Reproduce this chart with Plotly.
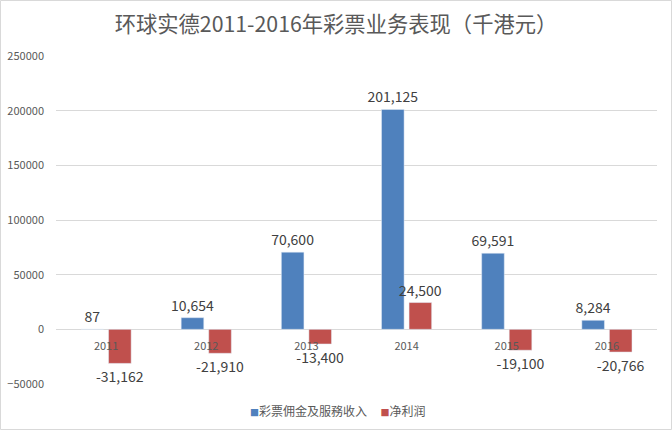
import plotly.graph_objects as go

years = ["2011", "2012", "2013", "2014", "2015", "2016"]
revenue = [87, 10654, 70600, 201125, 69591, 8284]
net_profit = [-31162, -21910, -13400, 24500, -19100, -20766]
series_names = ["彩票佣金及服務收入", "净利润"]
series_colors = ["#4F81BD", "#C0504D"]
title_text = "环球实德2011-2016年彩票业务表现（千港元）"

W, H = 672, 430
ml, mr, mt, mb = 56, 15, 56, 46
pw, ph = W - ml - mr, H - mt - mb

font_family = "Noto Sans CJK SC, Noto Sans, sans-serif"

fig = go.Figure()
for name, vals, col in zip(series_names, [revenue, net_profit], series_colors):
    fig.add_trace(go.Bar(
        x=years, y=vals, name=name,
        marker_color=col,
        text=[f"{v:,}" for v in vals], textposition="outside",
        constraintext="none",
        textfont=dict(size=14, color="#404040", family=font_family), cliponaxis=False,
    ))

legend_html = (
    f"<span style='color:{series_colors[0]};font-size:9px'>■</span>{series_names[0]}"
    f"&nbsp;&nbsp;&nbsp;&nbsp;&nbsp;"
    f"<span style='color:{series_colors[1]};font-size:9px'>■</span>{series_names[1]}"
)

fig.update_layout(
    width=W, height=H,
    margin=dict(l=ml, r=mr, t=mt, b=mb, autoexpand=False),
    paper_bgcolor="white", plot_bgcolor="white",
    font=dict(family=font_family, color="#595959"),
    title=dict(text=title_text, x=0.5, xanchor="center", y=1 - 25 / H, yanchor="middle",
               font=dict(size=21.3, color="#595959", family=font_family)),
    barmode="group", bargap=0.45, bargroupgap=0.18,
    showlegend=False,
    xaxis=dict(
        anchor="free", position=1 / 6,
        showline=False, showgrid=False, ticks="",
        tickfont=dict(size=11, color="#595959"),
        ticklabelstandoff=9,
    ),
    yaxis=dict(
        range=[-50000, 250000], dtick=50000, tickformat="d",
        showgrid=True, gridcolor="#D9D9D9", gridwidth=1,
        zeroline=True, zerolinecolor="#D9D9D9", zerolinewidth=1,
        tickfont=dict(size=11, color="#595959"),
        ticklabelstandoff=11, showline=False,
    ),
    annotations=[dict(
        text=legend_html, xref="paper", yref="paper",
        x=(338 - ml) / pw, y=-(410 - (mt + ph)) / ph,
        xanchor="center", yanchor="middle", showarrow=False,
        font=dict(size=12, color="#595959", family=font_family),
    )],
    shapes=[dict(
        type="rect", xref="paper", yref="paper",
        x0=(0.5 - ml) / pw, x1=(W - 0.5 - ml) / pw,
        y0=-(mb - 0.5) / ph, y1=1 + (mt - 0.5) / ph,
        line=dict(color="#D9D9D9", width=1), fillcolor="rgba(0,0,0,0)", layer="below",
    )],
)

fig.write_html("out.html")
